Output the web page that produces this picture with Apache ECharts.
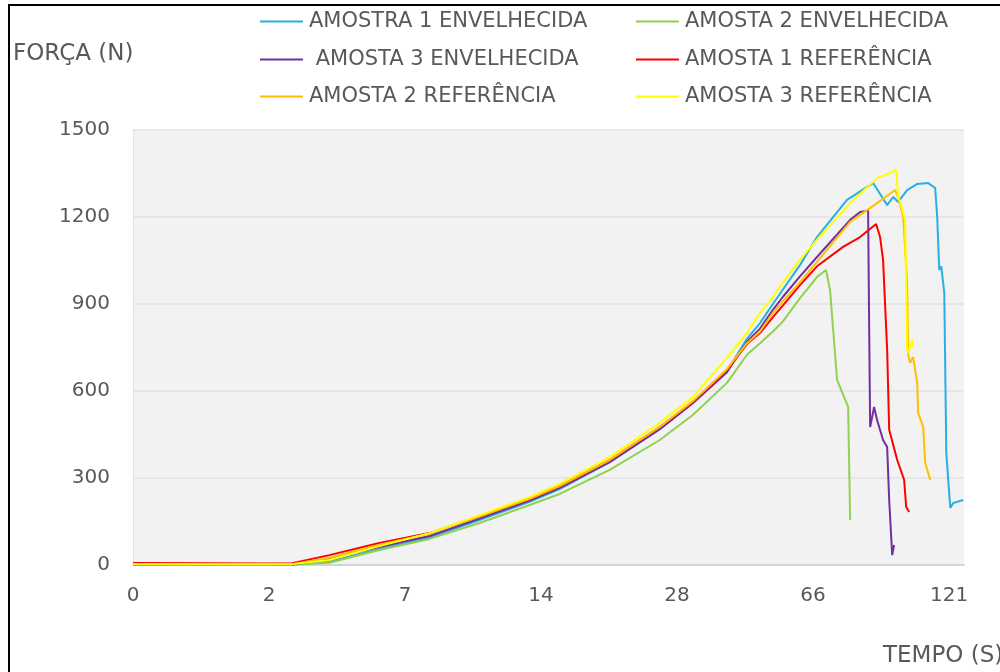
<!DOCTYPE html>
<html>
<head>
<meta charset="utf-8">
<script src="https://cdn.jsdelivr.net/npm/echarts@6/dist/echarts.min.js"></script>
<style>
html,body{margin:0;padding:0;background:#fff;}
#chart{width:1000px;height:672px;}
</style>
</head>
<body>
<div id="chart"></div>
<script>
// X positions are in tick units (0 = first label, 6 = last label)
const xTickLabels = ['0', '2', '7', '14', '28', '66', '121'];
const yMin = 0, yMax = 1500, yInterval = 300;

const seriesNames = [
  'AMOSTRA 1 ENVELHECIDA',
  'AMOSTA 2 ENVELHECIDA',
  ' AMOSTA 3 ENVELHECIDA',
  'AMOSTA 1 REFERÊNCIA',
  'AMOSTA 2 REFERÊNCIA',
  'AMOSTA 3 REFERÊNCIA'
];
const seriesColors = ['#29aee6', '#92d050', '#7030a0', '#ff0000', '#ffc000', '#ffff00'];

const amostra1Envelhecida = [[0,0],[0.486,2],[0.928,2],[1.171,2],[1.443,12],[1.811,55],[2.180,95],[2.548,155],[2.916,218],[3.137,262],[3.505,355],[3.873,468],[4.116,560],[4.367,668],[4.514,780],[4.610,834],[4.705,900],[4.779,950],[4.904,1034],[5.029,1131],[5.250,1259],[5.442,1317],[5.545,1241],[5.589,1269],[5.626,1252],[5.692,1293],[5.766,1314],[5.847,1317],[5.898,1300],[5.913,1200],[5.928,1017],[5.943,1030],[5.965,938],[5.980,386],[5.994,390],[6.009,197],[6.031,214],[6.105,224]];
const amostra2Envelhecida = [[0,0],[0.486,1],[0.928,1],[1.171,1],[1.443,8],[1.811,52],[2.180,90],[2.548,145],[2.916,207],[3.137,245],[3.505,328],[3.873,431],[4.116,517],[4.367,628],[4.514,725],[4.610,765],[4.705,805],[4.779,840],[4.904,920],[5.029,993],[5.074,1010],[5.096,1017],[5.125,948],[5.177,638],[5.258,545],[5.273,155]];
const amostra3Envelhecida = [[0,2],[0.486,2],[0.928,2],[1.171,2],[1.443,22],[1.811,62],[2.180,100],[2.548,160],[2.916,222],[3.137,266],[3.505,355],[3.873,468],[4.116,558],[4.367,665],[4.514,770],[4.610,815],[4.705,880],[4.779,925],[4.904,995],[5.029,1062],[5.273,1190],[5.346,1217],[5.405,1222],[5.412,855],[5.420,476],[5.449,545],[5.471,500],[5.515,431],[5.545,407],[5.560,224],[5.582,34],[5.596,69]];
const amostra1Referencia = [[0,7],[0.486,6],[0.928,5],[1.171,6],[1.443,34],[1.811,76],[2.180,110],[2.548,168],[2.916,228],[3.137,272],[3.505,362],[3.873,476],[4.116,562],[4.367,672],[4.514,762],[4.610,800],[4.705,855],[4.779,895],[4.904,965],[5.029,1030],[5.221,1097],[5.346,1131],[5.464,1176],[5.493,1131],[5.515,1052],[5.545,741],[5.560,466],[5.619,362],[5.670,293],[5.685,200],[5.707,183]];
const amostra2Referencia = [[0,3],[0.486,2],[0.928,2],[1.171,3],[1.443,25],[1.811,70],[2.180,108],[2.548,168],[2.916,228],[3.137,272],[3.505,362],[3.873,476],[4.116,565],[4.367,675],[4.514,765],[4.610,805],[4.705,869],[4.779,910],[4.904,975],[5.029,1045],[5.273,1183],[5.471,1248],[5.604,1293],[5.626,1269],[5.663,1200],[5.692,972],[5.700,724],[5.714,697],[5.736,717],[5.766,628],[5.773,524],[5.810,476],[5.825,352],[5.862,293]];
const amostra3Referencia = [[0,3],[0.486,3],[0.928,3],[1.171,3],[1.443,17],[1.811,65],[2.180,110],[2.548,172],[2.916,234],[3.137,280],[3.505,372],[3.873,490],[4.116,579],[4.367,714],[4.514,800],[4.610,869],[4.705,924],[4.779,975],[4.904,1052],[5.029,1122],[5.273,1248],[5.471,1334],[5.545,1348],[5.611,1362],[5.626,1269],[5.641,1252],[5.677,1190],[5.692,741],[5.700,731],[5.729,776],[5.736,752]];

const allData = [amostra1Envelhecida, amostra2Envelhecida, amostra3Envelhecida, amostra1Referencia, amostra2Referencia, amostra3Referencia];

const FONT = 'DejaVu Sans';
const TEXT_COLOR = '#595959';

const legendPos = [
  {left: 260, top: 11},
  {left: 636, top: 11},
  {left: 260, top: 49},
  {left: 636, top: 49},
  {left: 260, top: 86},
  {left: 636, top: 86}
];

const chart = echarts.init(document.getElementById('chart'), null, {renderer: 'canvas'});
chart.setOption({
  animation: false,
  backgroundColor: '#ffffff',
  grid: {
    left: 133, right: 36, top: 130, bottom: 107,
    show: true, backgroundColor: '#f2f2f2', borderWidth: 0
  },
  legend: seriesNames.map((n, i) => ({
    data: [n],
    left: legendPos[i].left,
    top: legendPos[i].top,
    padding: 0,
    icon: 'rect',
    itemWidth: 43,
    itemHeight: 2,
    itemGap: 0,
    selectedMode: false,
    textStyle: {fontFamily: FONT, fontSize: 21, color: TEXT_COLOR, padding: [0, 0, 0, 1]}
  })),
  xAxis: {
    type: 'value',
    min: 0,
    max: 6.11,
    interval: 1,
    axisLine: {show: true, lineStyle: {color: '#d4d4d4', width: 2}},
    axisTick: {show: false},
    splitLine: {show: false},
    axisLabel: {
      margin: 21,
      fontFamily: FONT, fontSize: 20, color: TEXT_COLOR,
      formatter: function (v) {
        const r = Math.round(v);
        return Math.abs(v - r) < 1e-6 && xTickLabels[r] !== undefined ? xTickLabels[r] : '';
      }
    }
  },
  yAxis: {
    type: 'value',
    min: yMin, max: yMax, interval: yInterval,
    axisLine: {show: true, lineStyle: {color: '#e0e0e0', width: 1}},
    axisTick: {show: false},
    splitLine: {show: true, lineStyle: {color: '#e2e2e2', width: 1.5}},
    axisLabel: {
      margin: 23, fontFamily: FONT, fontSize: 20, color: TEXT_COLOR,
      formatter: function (v) { return String(v); }
    }
  },
  series: seriesNames.map((n, i) => ({
    name: n,
    type: 'line',
    data: allData[i],
    showSymbol: false,
    symbol: 'none',
    color: seriesColors[i],
    lineStyle: {color: seriesColors[i], width: 2},
    z: 2 + i
  })),
  graphic: [
    {
      type: 'text', left: 13, top: 43,
      style: {text: 'FORÇA (N)', fontFamily: FONT, fontSize: 23, fill: TEXT_COLOR}
    },
    {
      type: 'text', left: 883, top: 645,
      style: {text: 'TEMPO (S)', fontFamily: FONT, fontSize: 23, fill: TEXT_COLOR}
    },
    {
      type: 'rect',
      shape: {x: 9, y: 5, width: 1100, height: 800},
      style: {fill: 'none', stroke: '#000000', lineWidth: 2},
      silent: true
    }
  ]
});
</script>
</body>
</html>
